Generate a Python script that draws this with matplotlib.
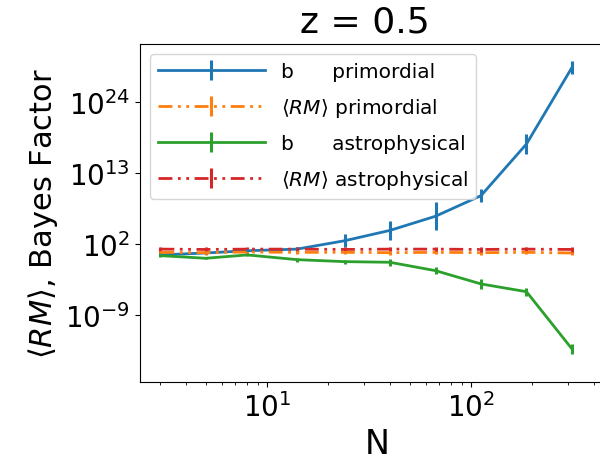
import numpy as np
import matplotlib
matplotlib.use('Agg')
import matplotlib.pyplot as plt

# number of sources N
N = [3, 5, 8, 14, 24, 40, 67, 112, 187, 313]

b_prim = [0.3, 0.6, 0.95, 1.2, 2.5, 4.1, 6.3, 9.5, 17.5, 29.4]
b_prim_err = [0.2, 0.2, 0.2, 0.3, 1.0, 1.5, 2.2, 1.0, 1.5, 1.0]

rm_prim = [0.7, 0.65, 0.75, 0.7, 0.7, 0.65, 0.7, 0.65, 0.7, 0.6]
rm_prim_err = [0.3, 0.3, 0.3, 0.3, 0.3, 0.3, 0.3, 0.3, 0.3, 0.3]

b_astro = [0.19, -0.22, 0.3, -0.43, -0.74, -0.84, -2.14, -4.2, -5.4, -14.3]
b_astro_err = [0.15, 0.15, 0.15, 0.3, 0.3, 0.5, 0.5, 0.8, 0.6, 0.8]

rm_astro = [1.2, 1.15, 1.2, 1.2, 1.15, 1.2, 1.2, 1.15, 1.2, 1.15]
rm_astro_err = [0.35, 0.35, 0.35, 0.35, 0.35, 0.35, 0.35, 0.35, 0.35, 0.35]

labels = ['b      primordial', r'$\langle RM\rangle$ primordial',
          'b      astrophysical', r'$\langle RM\rangle$ astrophysical']
colors = ['#1f77b4', '#ff7f0e', '#2ca02c', '#d62728']
dashdotdot = (0, (5, 2, 1, 2, 1, 2))
styles = ['-', dashdotdot, '-', dashdotdot]


def to_err(logv, loge):
    logv = np.array(logv)
    loge = np.array(loge)
    y = 10.0**logv
    return y, [y - 10.0**(logv - loge), 10.0**(logv + loge) - y]


fig = plt.figure(figsize=(6, 4.77), dpi=100)
ax = fig.add_axes([140/600, 94/477, 473.6/600, 338/477])

series = [(b_prim, b_prim_err), (rm_prim, rm_prim_err),
          (b_astro, b_astro_err), (rm_astro, rm_astro_err)]
for (v, e), lab, col, ls in zip(series, labels, colors, styles):
    y, err = to_err(v, e)
    ax.errorbar(N, y, yerr=err, color=col, ls=ls, lw=2, elinewidth=2.2,
                capsize=0, label=lab)

ax.set_xscale('log')
ax.set_yscale('log')
ax.set_xlim(10**0.377, 500)
ax.set_ylim(10**-19.4, 10**33.0)
ax.set_yticks([1e-9, 1e2, 1e13, 1e24])
ax.yaxis.set_minor_locator(matplotlib.ticker.NullLocator())
ax.tick_params(axis='both', which='major', labelsize=20)

ax.set_xlabel('N', fontsize=24)
ax.set_ylabel(r'$\langle RM\rangle$, Bayes Factor', fontsize=22)
ax.set_title('z = 0.5', fontsize=26, x=0.475, pad=9)

ax.legend(loc='upper left', fontsize=14.5, handlelength=5.3,
          labelspacing=0.75)

fig.savefig('out.png', dpi=100)
